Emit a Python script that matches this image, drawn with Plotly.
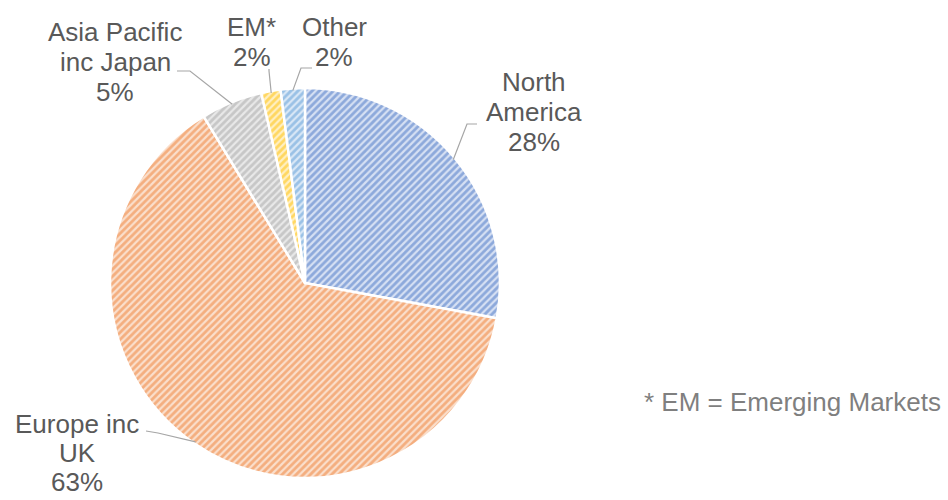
import math
import plotly.graph_objects as go

# ---- data ----
categories = ["North America", "Europe inc UK", "Asia Pacific inc Japan", "EM*", "Other"]
values = [27.9, 63.4, 5.1, 1.6, 2.0]
label_lines = [["North", "America"], ["Europe inc", "UK"], ["Asia Pacific", "inc Japan"], ["EM*"], ["Other"]]
footnote = "* EM = Emerging Markets"

# ---- style ----
fg_colors = ["#4472C4", "#ED7D31", "#A5A5A5", "#FFC000", "#5B9BD5"]
bg_colors = ["#d6e0f3", "#fadfcc", "#e8e8e8", "#ffefc2", "#d9e7f6"]
W, H = 948, 500
CX, CY, R = 305, 283, 195
FONT = "Liberation Sans, Arial, sans-serif"
TXT_COLOR = "#595959"
# label placement (pixels): text centre x, first-line centre y, line step, attach point, elbow point
label_pos = [
    dict(cx=534, y0=82, step=30, attach=(477, 124), elbow=(467, 124)),
    dict(cx=77, y0=424, step=29, attach=(146, 431), elbow=(158, 433)),
    dict(cx=115, y0=32, step=30, attach=(177, 71), elbow=(190, 71)),
    dict(cx=252, y0=27, step=30, attach=(269, 69), elbow=(269, 71)),
    dict(cx=334, y0=27, step=30, attach=(312, 68), elbow=(301, 68)),
]


def px(x):
    return x / W


def py(y):
    return 1 - y / H


fig = go.Figure(
    go.Pie(
        labels=categories,
        values=values,
        sort=False,
        direction="clockwise",
        rotation=0,
        textinfo="none",
        hoverinfo="label+percent",
        marker=dict(
            colors=bg_colors,
            line=dict(color="white", width=2.5),
            pattern=dict(shape="/", fgcolor=fg_colors, bgcolor=bg_colors,
                         size=5, solidity=0.55, fillmode="overlay"),
        ),
        domain=dict(x=[px(CX - R), px(CX + R)], y=[py(CY + R), py(CY - R)]),
        showlegend=False,
    )
)

total = sum(values)
annotations = []
shapes = []
cum = 0.0
for i, v in enumerate(values):
    mid = cum + v / 2
    cum += v
    ang = math.radians(90 - mid / total * 360)
    ex = CX + (R - 2) * math.cos(ang)
    ey = CY - (R - 2) * math.sin(ang)
    pos = label_pos[i]
    lines = label_lines[i] + [f"{round(v / total * 100)}%"]
    for k, t in enumerate(lines):
        annotations.append(dict(
            x=px(pos["cx"]), y=py(pos["y0"] + k * pos["step"]), xref="paper", yref="paper",
            text=t, showarrow=False, xanchor="center", yanchor="middle",
            font=dict(family=FONT, size=26, color=TXT_COLOR),
        ))
    ax, ay = pos["attach"]
    bx, by = pos["elbow"]
    shapes.append(dict(
        type="path", xref="paper", yref="paper",
        path=f"M {px(ax)} {py(ay)} L {px(bx)} {py(by)} L {px(ex)} {py(ey)}",
        line=dict(color="#a6a6a6", width=1.2),
    ))

annotations.append(dict(
    x=px(943), y=py(402), xref="paper", yref="paper", text=footnote,
    showarrow=False, xanchor="right", yanchor="middle",
    font=dict(family=FONT, size=26, color="#7f7f7f"),
))

fig.update_layout(
    width=W, height=H,
    margin=dict(l=0, r=0, t=0, b=0),
    paper_bgcolor="white", plot_bgcolor="white",
    annotations=annotations, shapes=shapes,
)

fig.write_html(
    "out.html",
    config={"displayModeBar": False},
    post_script="document.body.style.margin='0';document.body.style.overflow='hidden';",
)
